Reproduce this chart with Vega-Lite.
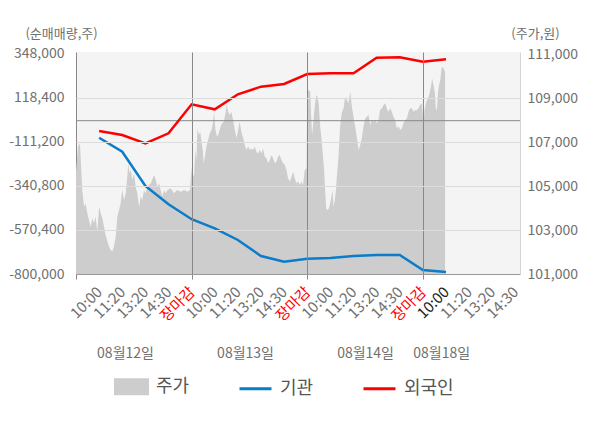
{
  "$schema": "https://vega.github.io/schema/vega-lite/v6.json",
  "width": 444,
  "height": 222,
  "autosize": {"type": "none"},
  "padding": {"left": 76, "top": 52, "right": 80, "bottom": 154},
  "background": "#ffffff",
  "config": {
    "font": "Noto Sans CJK KR",
    "view": {"fill": "#f4f4f4", "stroke": null},
    "axis": {"labelFont": "Noto Sans CJK KR", "titleFont": "Noto Sans CJK KR"},
    "legend": {
      "orient": "none", "legendX": 38, "legendY": 317, "direction": "horizontal", "title": null,
      "labelFontSize": 18, "labelColor": "#555555", "labelFont": "Noto Sans CJK KR",
      "symbolSize": 1024, "labelOffset": 7, "columnPadding": 43
    }
  },
  "datasets": {
    "price": [
      {"s": 0, "p": 105650}, {"s": 0.09, "p": 106790}, {"s": 0.17, "p": 106940}, {"s": 0.27, "p": 104820}, {"s": 0.35, "p": 104060}, {"s": 0.42, "p": 104210}, {"s": 0.49, "p": 103760}, {"s": 0.56, "p": 103450}, {"s": 0.63, "p": 103150}, {"s": 0.71, "p": 103530}, {"s": 0.78, "p": 103300}, {"s": 0.85, "p": 103610}, {"s": 0.92, "p": 102920}, {"s": 1.0, "p": 104060}, {"s": 1.07, "p": 103760}, {"s": 1.14, "p": 103530}, {"s": 1.21, "p": 103150}, {"s": 1.28, "p": 102770}, {"s": 1.36, "p": 102470}, {"s": 1.43, "p": 102240}, {"s": 1.5, "p": 102090}, {"s": 1.57, "p": 102020}, {"s": 1.64, "p": 102240}, {"s": 1.72, "p": 102700}, {"s": 1.79, "p": 103610}, {"s": 1.86, "p": 103910}, {"s": 1.93, "p": 104210}, {"s": 2.0, "p": 104820}, {"s": 2.08, "p": 104360}, {"s": 2.15, "p": 104670}, {"s": 2.22, "p": 105420}, {"s": 2.26, "p": 106030}, {"s": 2.31, "p": 105580}, {"s": 2.37, "p": 105730}, {"s": 2.44, "p": 105270}, {"s": 2.51, "p": 105580}, {"s": 2.58, "p": 104970}, {"s": 2.65, "p": 104670}, {"s": 2.73, "p": 104060}, {"s": 2.8, "p": 104520}, {"s": 2.87, "p": 104360}, {"s": 2.94, "p": 104820}, {"s": 3.01, "p": 104670}, {"s": 3.09, "p": 104970}, {"s": 3.23, "p": 105120}, {"s": 3.38, "p": 105500}, {"s": 3.45, "p": 105270}, {"s": 3.52, "p": 104970}, {"s": 3.59, "p": 105120}, {"s": 3.66, "p": 104820}, {"s": 3.74, "p": 104520}, {"s": 3.81, "p": 104820}, {"s": 3.88, "p": 104670}, {"s": 3.95, "p": 104820}, {"s": 4.1, "p": 104890}, {"s": 4.24, "p": 104670}, {"s": 4.38, "p": 104820}, {"s": 4.53, "p": 104740}, {"s": 4.67, "p": 104820}, {"s": 4.82, "p": 104740}, {"s": 4.93, "p": 104820},
      {"s": 5.0, "p": 105880}, {"s": 5.03, "p": 105420}, {"s": 5.11, "p": 105500}, {"s": 5.16, "p": 106640}, {"s": 5.21, "p": 106180}, {"s": 5.25, "p": 107620}, {"s": 5.31, "p": 107320}, {"s": 5.37, "p": 107470}, {"s": 5.42, "p": 107090}, {"s": 5.48, "p": 106640}, {"s": 5.52, "p": 106030}, {"s": 5.57, "p": 106330}, {"s": 5.64, "p": 106790}, {"s": 5.71, "p": 107090}, {"s": 5.78, "p": 107390}, {"s": 5.86, "p": 107550}, {"s": 5.93, "p": 107920}, {"s": 5.97, "p": 108380}, {"s": 6.03, "p": 107550}, {"s": 6.1, "p": 107240}, {"s": 6.17, "p": 107390}, {"s": 6.25, "p": 107700}, {"s": 6.32, "p": 107850}, {"s": 6.39, "p": 107920}, {"s": 6.46, "p": 108300}, {"s": 6.52, "p": 108680}, {"s": 6.58, "p": 108380}, {"s": 6.65, "p": 108230}, {"s": 6.72, "p": 108380}, {"s": 6.79, "p": 108000}, {"s": 6.87, "p": 107550}, {"s": 6.94, "p": 107170}, {"s": 7.01, "p": 107550}, {"s": 7.08, "p": 107920}, {"s": 7.15, "p": 107470}, {"s": 7.23, "p": 107170}, {"s": 7.3, "p": 106860}, {"s": 7.37, "p": 106640}, {"s": 7.44, "p": 106790}, {"s": 7.52, "p": 106640}, {"s": 7.59, "p": 106710}, {"s": 7.66, "p": 106640}, {"s": 7.73, "p": 106790}, {"s": 7.8, "p": 106560}, {"s": 7.87, "p": 106480}, {"s": 7.95, "p": 106640}, {"s": 8.02, "p": 106480}, {"s": 8.09, "p": 106710}, {"s": 8.16, "p": 106330}, {"s": 8.24, "p": 106260}, {"s": 8.31, "p": 106030}, {"s": 8.38, "p": 106180}, {"s": 8.45, "p": 106410}, {"s": 8.52, "p": 106260}, {"s": 8.6, "p": 106030}, {"s": 8.67, "p": 106110}, {"s": 8.74, "p": 106330}, {"s": 8.81, "p": 106410}, {"s": 8.88, "p": 106180}, {"s": 8.96, "p": 106030}, {"s": 9.03, "p": 105950}, {"s": 9.1, "p": 105730}, {"s": 9.17, "p": 105350}, {"s": 9.25, "p": 105200}, {"s": 9.32, "p": 105420}, {"s": 9.39, "p": 105650}, {"s": 9.46, "p": 105350}, {"s": 9.53, "p": 105120}, {"s": 9.61, "p": 105200}, {"s": 9.68, "p": 105050}, {"s": 9.75, "p": 105200}, {"s": 9.82, "p": 105050}, {"s": 9.89, "p": 105730}, {"s": 9.97, "p": 105800},
      {"s": 10.0, "p": 109440}, {"s": 10.05, "p": 109360}, {"s": 10.13, "p": 109290}, {"s": 10.17, "p": 108150}, {"s": 10.21, "p": 107320}, {"s": 10.27, "p": 108000}, {"s": 10.33, "p": 108680}, {"s": 10.39, "p": 109140}, {"s": 10.44, "p": 109060}, {"s": 10.5, "p": 108680}, {"s": 10.56, "p": 107700}, {"s": 10.62, "p": 107090}, {"s": 10.67, "p": 106480}, {"s": 10.73, "p": 105730}, {"s": 10.77, "p": 104820}, {"s": 10.82, "p": 103980}, {"s": 10.88, "p": 103910}, {"s": 10.93, "p": 103980}, {"s": 10.99, "p": 104210}, {"s": 11.05, "p": 104520}, {"s": 11.09, "p": 104820}, {"s": 11.14, "p": 104060}, {"s": 11.19, "p": 104360}, {"s": 11.24, "p": 104820}, {"s": 11.28, "p": 105420}, {"s": 11.35, "p": 106330}, {"s": 11.42, "p": 107700}, {"s": 11.5, "p": 108380}, {"s": 11.57, "p": 108530}, {"s": 11.64, "p": 109060}, {"s": 11.71, "p": 108910}, {"s": 11.78, "p": 108760}, {"s": 11.86, "p": 109290}, {"s": 11.93, "p": 108610}, {"s": 12.0, "p": 108150}, {"s": 12.07, "p": 107700}, {"s": 12.14, "p": 107240}, {"s": 12.22, "p": 106640}, {"s": 12.29, "p": 106860}, {"s": 12.36, "p": 107170}, {"s": 12.43, "p": 107700}, {"s": 12.51, "p": 108080}, {"s": 12.58, "p": 108150}, {"s": 12.65, "p": 108230}, {"s": 12.72, "p": 107770}, {"s": 12.79, "p": 108000}, {"s": 12.87, "p": 107920}, {"s": 12.94, "p": 108000}, {"s": 13.01, "p": 107850}, {"s": 13.08, "p": 108000}, {"s": 13.15, "p": 108450}, {"s": 13.23, "p": 108530}, {"s": 13.3, "p": 108680}, {"s": 13.37, "p": 108760}, {"s": 13.44, "p": 108530}, {"s": 13.51, "p": 108380}, {"s": 13.59, "p": 108530}, {"s": 13.66, "p": 108380}, {"s": 13.73, "p": 108150}, {"s": 13.8, "p": 108000}, {"s": 13.87, "p": 107620}, {"s": 13.95, "p": 107700}, {"s": 14.02, "p": 107550}, {"s": 14.09, "p": 107620}, {"s": 14.16, "p": 107850}, {"s": 14.24, "p": 108000}, {"s": 14.31, "p": 108080}, {"s": 14.38, "p": 108380}, {"s": 14.45, "p": 108530}, {"s": 14.52, "p": 108530}, {"s": 14.6, "p": 108380}, {"s": 14.67, "p": 108450}, {"s": 14.74, "p": 108450}, {"s": 14.81, "p": 108530}, {"s": 14.88, "p": 108680}, {"s": 14.96, "p": 108760},
      {"s": 15.03, "p": 107770}, {"s": 15.07, "p": 108450}, {"s": 15.15, "p": 108830}, {"s": 15.22, "p": 108980}, {"s": 15.29, "p": 109210}, {"s": 15.35, "p": 109520}, {"s": 15.4, "p": 109890}, {"s": 15.46, "p": 109590}, {"s": 15.52, "p": 109210}, {"s": 15.56, "p": 108530}, {"s": 15.61, "p": 108450}, {"s": 15.65, "p": 109210}, {"s": 15.69, "p": 109520}, {"s": 15.75, "p": 109820}, {"s": 15.81, "p": 110350}, {"s": 15.87, "p": 110420}, {"s": 15.92, "p": 110270}, {"s": 15.96, "p": 110200}
    ],
    "flow": [
      {"s": 1, "series": "기관", "v": -88800}, {"s": 2, "series": "기관", "v": -161800}, {"s": 3, "series": "기관", "v": -340800}, {"s": 4, "series": "기관", "v": -436300}, {"s": 5, "series": "기관", "v": -514000}, {"s": 6, "series": "기관", "v": -561500}, {"s": 7, "series": "기관", "v": -622600}, {"s": 8, "series": "기관", "v": -706100}, {"s": 9, "series": "기관", "v": -735800}, {"s": 10, "series": "기관", "v": -720000}, {"s": 11, "series": "기관", "v": -716500}, {"s": 12, "series": "기관", "v": -706100}, {"s": 13, "series": "기관", "v": -700900}, {"s": 14, "series": "기관", "v": -700900}, {"s": 15, "series": "기관", "v": -779100}, {"s": 16, "series": "기관", "v": -789600},
      {"s": 1, "series": "외국인", "v": -53800}, {"s": 2, "series": "외국인", "v": -74700}, {"s": 3, "series": "외국인", "v": -118000}, {"s": 4, "series": "외국인", "v": -65800}, {"s": 5, "series": "외국인", "v": 85500}, {"s": 6, "series": "외국인", "v": 59400}, {"s": 7, "series": "외국인", "v": 137700}, {"s": 8, "series": "외국인", "v": 177500}, {"s": 9, "series": "외국인", "v": 191400}, {"s": 10, "series": "외국인", "v": 243600}, {"s": 11, "series": "외국인", "v": 247000}, {"s": 12, "series": "외국인", "v": 247000}, {"s": 13, "series": "외국인", "v": 328800}, {"s": 14, "series": "외국인", "v": 330700}, {"s": 15, "series": "외국인", "v": 307900}, {"s": 16, "series": "외국인", "v": 320300}
    ]
  },
  "layer": [
    {
      "data": {"name": "price"},
      "mark": {"type": "area", "interpolate": "linear", "clip": true, "opacity": 1},
      "encoding": {
        "x": {
          "field": "s", "type": "quantitative",
          "scale": {"domain": [0, 19.2], "nice": false, "zero": false},
          "axis": {
            "orient": "bottom",
            "values": [0, 1, 2, 3, 4, 5, 6, 7, 8, 9, 10, 11, 12, 13, 14, 15, 16, 17, 18, 19],
            "labelExpr": "datum.value === 0 ? '' : datum.value % 5 === 0 ? '장마감' : datum.value % 5 === 1 ? '10:00' : datum.value % 5 === 2 ? '11:20' : datum.value % 5 === 3 ? '13:20' : '14:30'",
            "labelAngle": -45, "labelAlign": "right", "labelBaseline": "middle", "labelPadding": 10,
            "labelFontSize": 15, "labelOverlap": false, "labelFlush": false, "labelBound": false,
            "labelColor": {"condition": [{"test": "datum.value % 5 === 0", "value": "#ff0000"}, {"test": "datum.value === 16", "value": "#222222"}], "value": "#707070"},
            "ticks": true, "tickSize": 5, "tickColor": "#888888",
            "tickOpacity": {"condition": {"test": "datum.value % 5 === 0", "value": 1}, "value": 0},
            "grid": true, "gridColor": "#888888",
            "gridOpacity": {"condition": {"test": "datum.value % 5 === 0 && datum.value > 0", "value": 1}, "value": 0},
            "domainColor": "#999999", "title": null, "zindex": 1
          }
        },
        "y": {
          "field": "p", "type": "quantitative",
          "scale": {"domain": [101000, 111091], "nice": false, "zero": false},
          "axis": {
            "orient": "right",
            "values": [101000, 103000, 105000, 107000, 109000, 111000],
            "format": ",d",
            "labelFontSize": 14, "labelColor": "#707070", "labelPadding": 7, "labelOverlap": false, "labelBaseline": "middle",
            "ticks": false, "grid": true, "gridColor": "#dcdcdc",
            "gridOpacity": {"condition": {"test": "datum.value === 111000", "value": 0}, "value": 1},
            "domainColor": "#d4d4d4",
            "title": "(주가,원)", "titleAngle": 0, "titleAlign": "center", "titleBaseline": "middle",
            "titleX": 15, "titleY": -19, "titleFontSize": 13, "titleFontWeight": "normal", "titleColor": "#707070",
            "zindex": 1
          }
        },
        "y2": {"datum": 101000},
        "color": {
          "datum": "주가", "type": "nominal",
          "scale": {"domain": ["주가", "기관", "외국인"], "range": ["#cdcdcd", "#0a7cc8", "#ff0000"]},
          "legend": {
            "title": null,
            "values": ["주가", "기관", "외국인"],
            "symbolType": "square",
            "labelExpr": "datum.label === '기관' ? '기관\u3000\u2002\u2002' : datum.label",
            "encode": {
              "symbols": {
                "update": {
                  "shape": {"signal": "datum.value === '주가' ? 'M-1,-0.44H1V0.44H-1Z' : 'M-1,0H1'"},
                  "fill": {"signal": "datum.value === '주가' ? '#cdcdcd' : 'transparent'"},
                  "stroke": {"signal": "datum.value === '기관' ? '#0a7cc8' : datum.value === '외국인' ? '#ff0000' : 'transparent'"},
                  "strokeWidth": {"value": 3},
                  "opacity": {"value": 1}
                }
              }
            }
          }
        }
      }
    },
    {
      "data": {"values": [{"v": 0}]},
      "mark": {"type": "rule", "color": "#888888", "strokeWidth": 1},
      "encoding": {
        "y": {"field": "v", "type": "quantitative", "scale": {"domain": [-800000, 358436], "nice": false, "zero": false}, "axis": null}
      }
    },
    {
      "data": {"name": "flow"},
      "mark": {"type": "line", "strokeWidth": 2.5, "clip": true},
      "encoding": {
        "x": {
          "field": "s", "type": "quantitative",
          "axis": {
            "orient": "bottom", "values": [2.12, 7.31, 12.5, 15.79],
            "labelExpr": "datum.value < 5 ? '08월12일' : datum.value < 10 ? '08월13일' : datum.value < 15 ? '08월14일' : '08월18일'",
            "labelAngle": 0, "labelAlign": "center", "labelBaseline": "middle", "labelPadding": 0, "offset": 79,
            "domain": false, "ticks": false, "grid": false, "labelFontSize": 14, "labelColor": "#707070",
            "labelOverlap": false, "labelFlush": false, "title": null
          }
        },
        "y": {
          "field": "v", "type": "quantitative",
          "scale": {"domain": [-800000, 358436], "nice": false, "zero": false},
          "axis": {
            "orient": "left",
            "values": [-800000, -570400, -340800, -111200, 118400, 348000],
            "labelExpr": "(datum.value < 0 ? '-' : '') + format(abs(datum.value), ',')",
            "labelFontSize": 14, "labelColor": "#707070", "labelPadding": 12, "labelOverlap": false, "labelBaseline": "middle",
            "ticks": false, "grid": false, "domainColor": "#888888",
            "title": "(순매매량,주)", "titleAngle": 0, "titleAlign": "center", "titleBaseline": "middle",
            "titleX": -15, "titleY": -19, "titleFontSize": 13, "titleFontWeight": "normal", "titleColor": "#707070"
          }
        },
        "color": {
          "field": "series", "type": "nominal",
          "legend": {
            "title": null,
            "values": ["주가", "기관", "외국인"],
            "symbolType": "square",
            "labelExpr": "datum.label === '기관' ? '기관\u3000\u2002\u2002' : datum.label",
            "encode": {
              "symbols": {
                "update": {
                  "shape": {"signal": "datum.value === '주가' ? 'M-1,-0.44H1V0.44H-1Z' : 'M-1,0H1'"},
                  "fill": {"signal": "datum.value === '주가' ? '#cdcdcd' : 'transparent'"},
                  "stroke": {"signal": "datum.value === '기관' ? '#0a7cc8' : datum.value === '외국인' ? '#ff0000' : 'transparent'"},
                  "strokeWidth": {"value": 3},
                  "opacity": {"value": 1}
                }
              }
            }
          }
        }
      }
    }
  ],
  "resolve": {"scale": {"y": "independent"}, "axis": {"x": "independent"}}
}
